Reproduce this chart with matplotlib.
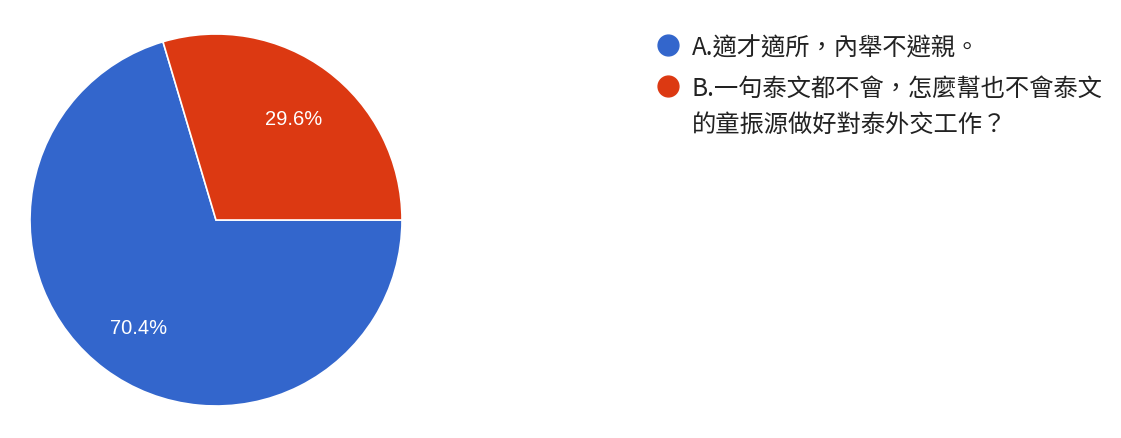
import matplotlib
matplotlib.use('Agg')
import matplotlib.pyplot as plt

plt.rcParams['font.family'] = ['Noto Sans CJK TC', 'DejaVu Sans']

# data
labels = ['A.適才適所，內舉不避親。', 'B.一句泰文都不會，怎麼幫也不會泰文\n的童振源做好對泰外交工作？']
values = [70.4, 29.6]
colors = ['#3366CC', '#DC3912']

W, H = 1121, 438
fig = plt.figure(figsize=(W / 100, H / 100), dpi=100)
fig.patch.set_facecolor('white')

# pie axes: centre (216,220), radius 186 px
cx, cy, r = 216, 220, 186
ax = fig.add_axes([(cx - r) / W, (H - cy - r) / H, 2 * r / W, 2 * r / H])
wedges, texts, autotexts = ax.pie(
    values, colors=colors, startangle=106.56, counterclock=True,
    autopct='%1.1f%%', pctdistance=0.70, radius=1,
    wedgeprops=dict(edgecolor='white', linewidth=1.2),
    textprops=dict(color='white', fontsize=14.5, family=['Liberation Sans', 'DejaVu Sans']))
for t in autotexts:
    x, y = t.get_position()
    t.set_position((x, y - 0.02))
ax.set_xlim(-1, 1)
ax.set_ylim(-1, 1)
ax.set_aspect('equal')
ax.axis('off')

# legend drawn by hand
ys = [45, 86]
for lab, col, y in zip(labels, colors, ys):
    fig.lines.append(plt.Line2D([668 / W], [1 - y / H], marker='o', markersize=15,
                                color=col, linestyle='none', transform=fig.transFigure))
    fig.text(692 / W, 1 - (y - 10) / H, lab, fontsize=17.5, color='#222222',
             va='top', ha='left', linespacing=1.5)

fig.savefig('out.png', dpi=100, facecolor='white')
